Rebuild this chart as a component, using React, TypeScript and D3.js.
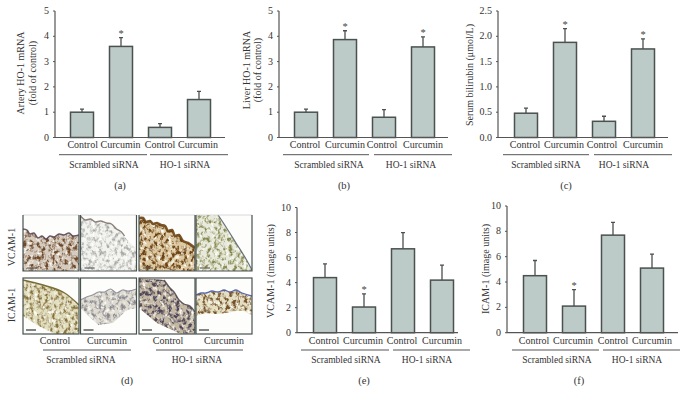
import React from "react";
import * as d3 from "d3";

const categories = ["Control", "Curcumin", "Control", "Curcumin"];
const groups = ["Scrambled siRNA", "HO-1 siRNA"];

const arteryValues = [1, 3.6, 0.4, 1.5];
const arteryErrorTops = [1.12, 3.95, 0.55, 1.82];
const arteryStars = [false, true, false, false];
const arteryTicks = ["0", "1", "2", "3", "4", "5"];

const liverValues = [1, 3.87, 0.8, 3.58];
const liverErrorTops = [1.12, 4.22, 1.1, 3.98];
const liverStars = [false, true, false, true];
const liverTicks = ["0", "1", "2", "3", "4", "5"];

const bilirubinValues = [0.48, 1.88, 0.32, 1.75];
const bilirubinErrorTops = [0.58, 2.15, 0.42, 1.95];
const bilirubinStars = [false, true, false, true];
const bilirubinTicks = ["0.0", "0.5", "1.0", "1.5", "2.0", "2.5"];

const vcamValues = [4.4, 2.05, 6.7, 4.2];
const vcamErrorTops = [5.5, 3.1, 8.0, 5.4];
const vcamStars = [false, true, false, false];
const vcamTicks = ["0", "2", "4", "6", "8", "10"];

const icamValues = [4.5, 2.1, 7.7, 5.1];
const icamErrorTops = [5.7, 3.4, 8.7, 6.2];
const icamStars = [false, true, false, false];
const icamTicks = ["0", "2", "4", "6", "8", "10"];

const INK = "#333";
const FILL = "#bccbc7";
const BAR = "#4a514f";
const SERIF = "'Liberation Serif', serif";

type Panel = {
  tag: string;
  values: number[];
  tops: number[];
  stars: boolean[];
  ticks: string[];
  yLabel: string[];
  yLabelX: number[];
  yLabelY: number;
  axisX: number;
  axisEnd: number;
  yTop: number;
  yBottom: number;
  firstCenter: number;
  catX: number[];
  catY: number;
  lines: number[][];
  lineY: number;
  groupX: number[];
  groupY: number;
  tagX: number;
  tagY: number;
};

const panels: Panel[] = [
  {
    tag: "(a)", values: arteryValues, tops: arteryErrorTops, stars: arteryStars, ticks: arteryTicks,
    yLabel: ["Artery HO-1 mRNA", "(fold of control)"], yLabelX: [24, 36], yLabelY: 73,
    axisX: 55, axisEnd: 225, yTop: 11, yBottom: 137.5, firstCenter: 82,
    catX: [82.7, 120.5, 160, 198], catY: 148, lines: [[59, 147], [150, 228]], lineY: 154.7,
    groupX: [104, 185], groupY: 168, tagX: 120, tagY: 189,
  },
  {
    tag: "(b)", values: liverValues, tops: liverErrorTops, stars: liverStars, ticks: liverTicks,
    yLabel: ["Liver HO-1 mRNA", "(fold of control)"], yLabelX: [250, 261], yLabelY: 70,
    axisX: 279, axisEnd: 448, yTop: 11, yBottom: 137.5, firstCenter: 306,
    catX: [305, 345, 382, 423], catY: 148, lines: [[283, 369], [374, 452]], lineY: 154.7,
    groupX: [329, 411], groupY: 168, tagX: 344, tagY: 189,
  },
  {
    tag: "(c)", values: bilirubinValues, tops: bilirubinErrorTops, stars: bilirubinStars, ticks: bilirubinTicks,
    yLabel: ["Serum bilirubin (μmol/L)"], yLabelX: [473], yLabelY: 75,
    axisX: 498, axisEnd: 668, yTop: 11, yBottom: 137.5, firstCenter: 526,
    catX: [525, 564, 602, 643], catY: 148, lines: [[503, 589], [594, 672]], lineY: 154.7,
    groupX: [546, 624], groupY: 168, tagX: 566, tagY: 189,
  },
  {
    tag: "(e)", values: vcamValues, tops: vcamErrorTops, stars: vcamStars, ticks: vcamTicks,
    yLabel: ["VCAM-1 (image units)"], yLabelX: [274], yLabelY: 271,
    axisX: 297, axisEnd: 458, yTop: 207.5, yBottom: 332.7, firstCenter: 325,
    catX: [324, 363, 402, 442], catY: 344, lines: [[301, 389], [393, 470]], lineY: 350,
    groupX: [346, 427], groupY: 363, tagX: 364, tagY: 384,
  },
  {
    tag: "(f)", values: icamValues, tops: icamErrorTops, stars: icamStars, ticks: icamTicks,
    yLabel: ["ICAM-1 (image units)"], yLabelX: [489], yLabelY: 269,
    axisX: 507, axisEnd: 678, yTop: 206, yBottom: 332.7, firstCenter: 535,
    catX: [534, 573, 613, 652], catY: 344, lines: [[512, 599], [603, 680]], lineY: 350,
    groupX: [557, 637], groupY: 363, tagX: 579, tagY: 384,
  },
];

function BarPanel({ p }: { p: Panel }) {
  const max = +p.ticks[p.ticks.length - 1];
  const y = d3.scaleLinear().domain([0, max]).range([p.yBottom, p.yTop]);
  const x = d3.scaleLinear().domain([0, 3]).range([p.firstCenter, p.firstCenter + 117]);
  const w = 23;
  return (
    <g fontFamily={SERIF} fill={INK}>
      {p.values.map((v, i) => (
        <g key={i}>
          <path d={`M${x(i)},${y(v)}V${y(p.tops[i])}M${x(i) - 2},${y(p.tops[i])}H${x(i) + 2}`} stroke={BAR} strokeWidth={1.3} fill="none" />
          <rect x={x(i) - w / 2} y={y(v)} width={w} height={y(0) - y(v)} fill={FILL} stroke={BAR} strokeWidth={1.5} />
          {p.stars[i] && (
            <text x={x(i)} y={y(p.tops[i]) - 1} fontSize={10.5} textAnchor="middle" fill="#444">*</text>
          )}
        </g>
      ))}
      <path d={`M${p.axisX},${p.yTop}V${p.yBottom}H${p.axisEnd}`} stroke="#555" strokeWidth={1.2} fill="none" />
      {p.ticks.map((t) => (
        <g key={t}>
          <line x1={p.axisX - 2} x2={p.axisX} y1={y(+t)} y2={y(+t)} stroke="#555" strokeWidth={1} />
          <text x={p.axisX - 6} y={y(+t) + 3} fontSize={10} textAnchor="end">{t}</text>
        </g>
      ))}
      {p.yLabel.map((t, i) => (
        <text key={t} transform={`translate(${p.yLabelX[i]},${p.yLabelY}) rotate(-90)`} fontSize={10} textAnchor="middle">{t}</text>
      ))}
      {categories.map((c, i) => (
        <text key={i} x={p.catX[i]} y={p.catY} fontSize={10} textAnchor="middle">{c}</text>
      ))}
      {p.lines.map((l, i) => (
        <line key={i} x1={l[0]} x2={l[1]} y1={p.lineY} y2={p.lineY} stroke="#555" strokeWidth={1} />
      ))}
      {groups.map((g, i) => (
        <text key={g} x={p.groupX[i]} y={p.groupY} fontSize={9.5} textAnchor="middle">{g}</text>
      ))}
      <text x={p.tagX} y={p.tagY} fontSize={10.5} textAnchor="middle">{p.tag}</text>
    </g>
  );
}

type Tissue = {
  x: number;
  y: number;
  outline: number[][];
  edge: number[][];
  base: string;
  dark: string;
  gain: number;
  edgeColor: string;
  edgeWidth: number;
  seed: number;
};

const rowY = [215, 278];
const colX = [23, 80.5, 139, 196];

const tissues: Tissue[] = [
  {
    x: colX[0], y: rowY[0], base: "#d6cbbf", dark: "#6e4a2a", gain: 1.35, edgeColor: "#5b4658", edgeWidth: 1.5, seed: 3,
    outline: [[0, 14], [4, 15], [7, 19], [11, 18], [15, 23], [19, 21], [23, 24], [27, 21], [31, 22], [36, 19], [41, 20], [46, 18], [50, 21], [56, 20], [56, 56], [0, 56]],
    edge: [[0, 14], [4, 15], [7, 19], [11, 18], [15, 23], [19, 21], [23, 24], [27, 21], [31, 22], [36, 19], [41, 20], [46, 18], [50, 21], [56, 20]],
  },
  {
    x: colX[1], y: rowY[0], base: "#f2f2ef", dark: "#a5a5a2", gain: 1.1, edgeColor: "#81756e", edgeWidth: 1.4, seed: 7,
    outline: [[0, 1], [5, 5], [10, 4], [15, 7], [20, 6], [26, 8], [31, 9], [36, 14], [41, 17], [46, 24], [56, 34], [56, 56], [0, 56]],
    edge: [[0, 1], [5, 5], [10, 4], [15, 7], [20, 6], [26, 8], [31, 9], [36, 14], [41, 17], [44, 21]],
  },
  {
    x: colX[2], y: rowY[0], base: "#dcc9a2", dark: "#6d4314", gain: 1.4, edgeColor: "#6d4313", edgeWidth: 2.6, seed: 11,
    outline: [[0, 3], [4, 3], [7, 7], [11, 6], [14, 9], [18, 8], [22, 10], [26, 11], [29, 16], [33, 15], [36, 21], [40, 20], [44, 26], [49, 28], [56, 33], [56, 56], [0, 56]],
    edge: [[0, 3], [4, 3], [7, 7], [11, 6], [14, 9], [18, 8], [22, 10], [26, 11], [29, 16], [33, 15], [36, 21], [40, 20], [44, 26], [49, 28], [56, 33]],
  },
  {
    x: colX[3], y: rowY[0], base: "#e7e9da", dark: "#86874e", gain: 1.25, edgeColor: "#59656f", edgeWidth: 1.2, seed: 15,
    outline: [[0, 0], [22, 0], [30, 12], [40, 28], [50, 44], [56, 55], [56, 56], [0, 56]],
    edge: [[22, 0], [30, 12], [40, 28], [50, 44], [56, 55]],
  },
  {
    x: colX[0], y: rowY[1], base: "#e2dfc0", dark: "#86703c", gain: 1.3, edgeColor: "#6b5e22", edgeWidth: 1.4, seed: 19,
    outline: [[0, 2], [20, 7], [40, 14], [56, 27], [56, 56], [32, 56], [14, 47], [0, 38]],
    edge: [[0, 2], [20, 7], [40, 14], [56, 27]],
  },
  {
    x: colX[1], y: rowY[1], base: "#dedbd1", dark: "#8c8a90", gain: 1.25, edgeColor: "#8d8a95", edgeWidth: 1.2, seed: 23,
    outline: [[0, 22], [6, 19], [12, 17], [18, 14], [24, 14], [30, 11], [36, 15], [42, 12], [48, 13], [56, 11], [56, 30], [50, 31], [45, 33], [38, 40], [32, 45], [18, 47], [8, 38], [0, 30]],
    edge: [[0, 22], [6, 19], [12, 17], [18, 14], [24, 14], [30, 11], [36, 15], [42, 12], [48, 13], [56, 11]],
  },
  {
    x: colX[2], y: rowY[1], base: "#c4b8a2", dark: "#4f4658", gain: 1.5, edgeColor: "#574c52", edgeWidth: 1.4, seed: 27,
    outline: [[0, 0], [25, 2], [31, 10], [35, 14], [40, 22], [45, 26], [51, 28], [56, 34], [56, 56], [42, 56], [18, 45], [0, 30]],
    edge: [[25, 2], [31, 10], [35, 14], [40, 22], [45, 26], [51, 28], [56, 34]],
  },
  {
    x: colX[3], y: rowY[1], base: "#e4dfc2", dark: "#75522a", gain: 1.45, edgeColor: "#4a5aa8", edgeWidth: 1.3, seed: 31,
    outline: [[0, 17], [5, 15], [10, 15], [16, 13], [22, 14], [28, 12], [34, 14], [40, 12], [46, 15], [56, 18], [56, 37], [48, 33], [40, 33], [30, 35], [20, 36], [10, 35], [0, 38]],
    edge: [[0, 17], [5, 15], [10, 15], [16, 13], [22, 14], [28, 12], [34, 14], [40, 12], [46, 15], [56, 18]],
  },
];

const curve = d3.line().curve(d3.curveCatmullRom.alpha(0.5));
const straight = d3.line();

function Micrograph({ t, i }: { t: Tissue; i: number }) {
  const c = d3.color(t.dark)!.rgb();
  const m = `0 0 0 0 ${c.r / 255} 0 0 0 0 ${c.g / 255} 0 0 0 0 ${c.b / 255} ${t.gain * 3} 0 0 0 ${-t.gain * 1.35}`;
  const light = `0 0 0 0 1 0 0 0 0 1 0 0 0 0 0.98 0 3.5 0 0 -1.9`;
  return (
    <g transform={`translate(${t.x},${t.y})`}>
      <defs>
        <clipPath id={`clip${i}`}><rect width={56} height={56} /></clipPath>
        <filter id={`mottle${i}`} x="0" y="0" width="1" height="1" colorInterpolationFilters="sRGB">
          <feTurbulence type="fractalNoise" baseFrequency="0.27 0.22" numOctaves={3} seed={t.seed} result="n" />
          <feColorMatrix in="n" type="matrix" values={m} result="spots" />
          <feColorMatrix in="n" type="matrix" values={light} result="flecks" />
          <feComposite in="spots" in2="SourceAlpha" operator="in" result="clipped" />
          <feComposite in="flecks" in2="SourceAlpha" operator="in" result="clippedLight" />
          <feMerge>
            <feMergeNode in="SourceGraphic" />
            <feMergeNode in="clipped" />
            <feMergeNode in="clippedLight" />
          </feMerge>
          <feGaussianBlur stdDeviation="0.4" />
        </filter>
      </defs>
      <rect width={56} height={56} fill="#fdfdfb" />
      <g clipPath={`url(#clip${i})`}>
        <path d={straight(t.outline as [number, number][])!} fill={t.base} filter={`url(#mottle${i})`} />
        <path d={curve(t.edge as [number, number][])!} fill="none" stroke={t.edgeColor} strokeWidth={t.edgeWidth} opacity={0.9} />
      </g>
      <line x1={i < 4 ? 4 : 3} x2={i < 4 ? 14 : 13} y1={i < 4 ? 53 : 52} y2={i < 4 ? 53 : 52} stroke={i < 4 ? "#555" : "#222"} strokeWidth={1.1} />
      {i < 4 ? (
        <g fill="none">
          <path d="M0,0H56" stroke="#c9cfcc" strokeWidth={0.8} />
          <path d="M0,0V56H56V0" stroke="#48524f" strokeWidth={1.2} />
        </g>
      ) : (
        <rect width={56} height={56} fill="none" stroke="#48524f" strokeWidth={1.2} />
      )}
    </g>
  );
}

function PanelD() {
  return (
    <g fontFamily={SERIF} fill={INK}>
      {tissues.map((t, i) => <Micrograph key={i} t={t} i={i} />)}
      <text transform="translate(15,247) rotate(-90)" fontSize={10} textAnchor="middle">VCAM-1</text>
      <text transform="translate(15,305) rotate(-90)" fontSize={10} textAnchor="middle">ICAM-1</text>
      {categories.map((c, i) => (
        <text key={i} x={[55, 107, 168, 224][i]} y={344} fontSize={10} textAnchor="middle">{c}</text>
      ))}
      <line x1={43} x2={131} y1={350} y2={350} stroke="#555" />
      <line x1={156} x2={243} y1={350} y2={350} stroke="#555" />
      <text x={81} y={363} fontSize={9.5} textAnchor="middle">{groups[0]}</text>
      <text x={197} y={363} fontSize={9.5} textAnchor="middle">{groups[1]}</text>
      <text x={127} y={384} fontSize={10.5} textAnchor="middle">(d)</text>
    </g>
  );
}

export default function App() {
  return (
    <svg width={687} height={402} viewBox="0 0 687 402" style={{ position: "fixed", left: 0, top: 0, background: "#fff" }}>
      {panels.map((p) => <BarPanel key={p.tag} p={p} />)}
      <PanelD />
    </svg>
  );
}
